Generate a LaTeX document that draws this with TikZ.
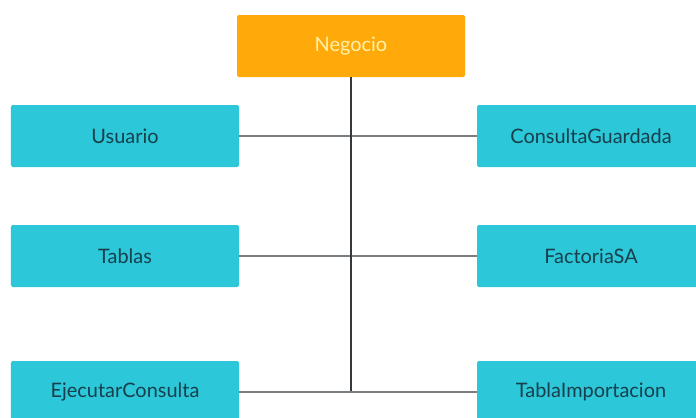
\documentclass[tikz,border=0pt]{standalone}
\usepackage{fontspec}
\setmainfont{Lato}
\definecolor{boxcyan}{HTML}{2CC7D8}
\definecolor{boxorange}{HTML}{FFA90A}
\definecolor{txtdark}{HTML}{173F4C}
\definecolor{txtlight}{HTML}{FFF2A8}
\definecolor{linegray}{HTML}{7A7E80}
\definecolor{linedark}{HTML}{33393D}
\begin{document}
\begin{tikzpicture}[x=1bp,y=-1bp,
  cls/.style={rectangle, rounded corners=2bp, fill=boxcyan, text=txtdark,
    minimum width=228bp, minimum height=62bp, inner sep=0pt, font=\fontsize{20}{24}\selectfont},
  root/.style={cls, fill=boxorange, text=txtlight},
  hline/.style={draw=linegray, line width=2bp},
  vline/.style={draw=linedark, line width=2.6bp}]
\useasboundingbox (0,0) rectangle (696,417);
\clip (0,0) rectangle (696,417);
\fill[white] (0,0) rectangle (696,417);
\node[root] (neg) at (351,46) {Negocio};
\node[cls] (usu) at (125,136) {Usuario};
\node[cls] (tab) at (125,256) {Tablas};
\node[cls] (eje) at (125,392) {EjecutarConsulta};
\node[cls] (cg) at (591,136) {ConsultaGuardada};
\node[cls] (fsa) at (591,256) {FactoriaSA};
\node[cls] (ti) at (591,392) {TablaImportacion};
\draw[hline] (usu.east) -- (cg.west);
\draw[hline] (tab.east) -- (fsa.west);
\draw[hline] (eje.east) -- (ti.west);
\coordinate (vend) at (neg.south |- eje.east);
\draw[vline] (neg.south) -- ([yshift=1bp]vend);
\end{tikzpicture}
\end{document}
